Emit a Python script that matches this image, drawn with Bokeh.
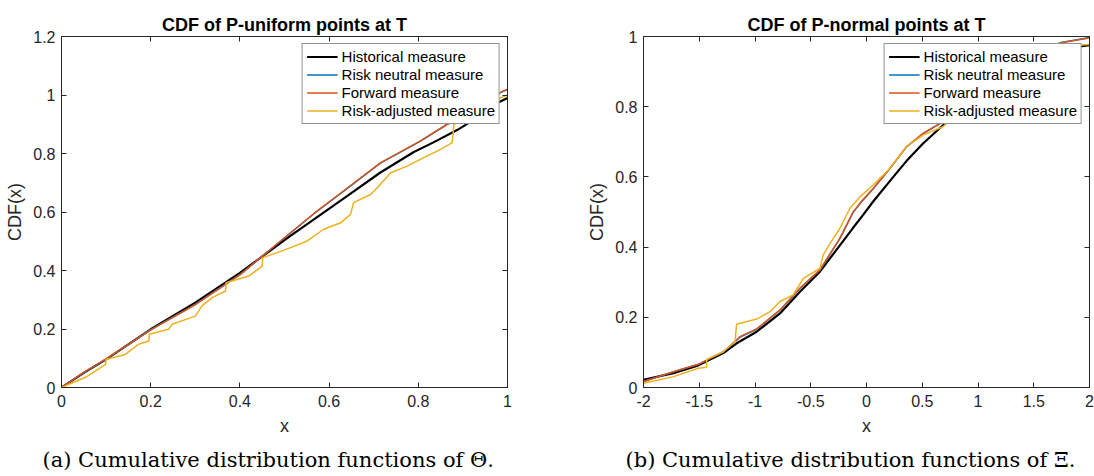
from bokeh.plotting import figure
from bokeh.models import Range1d, LinearAxis, FixedTicker, Legend, LegendItem
from bokeh.layouts import row, column
from bokeh.embed import file_html
from bokeh.resources import INLINE

# ---------------- data: panel (a) P-uniform ----------------
a_title = "CDF of P-uniform points at T"
a_caption = "(a) Cumulative distribution functions of \u0398."
a_xticks = [0, 0.2, 0.4, 0.6, 0.8, 1]
a_xlabels = ["0", "0.2", "0.4", "0.6", "0.8", "1"]
a_yticks = [0, 0.2, 0.4, 0.6, 0.8, 1, 1.2]
a_ylabels = ["0", "0.2", "0.4", "0.6", "0.8", "1", "1.2"]

a_hist_x = [0, 0.05, 0.1, 0.2, 0.3, 0.4, 0.51, 0.566, 0.641, 0.715, 0.79, 0.834, 0.887, 0.917, 0.95, 0.984, 1.0]
a_hist_y = [0, 0.05, 0.096, 0.199, 0.29, 0.392, 0.515, 0.575, 0.655, 0.735, 0.805, 0.838, 0.88, 0.908, 0.942, 0.978, 0.99]

a_rn_x = [0, 0.05, 0.1, 0.2, 0.3, 0.4, 0.491, 0.566, 0.641, 0.715, 0.805, 0.865, 0.887, 0.947, 0.984, 1.0]
a_rn_y = [0, 0.051, 0.097, 0.198, 0.284, 0.386, 0.5, 0.594, 0.681, 0.767, 0.842, 0.9, 0.914, 0.963, 1.008, 1.019]

a_fw_x = [0, 0.05, 0.1, 0.2, 0.3, 0.4, 0.491, 0.566, 0.641, 0.715, 0.805, 0.865, 0.887, 0.947, 0.984, 1.0]
a_fw_y = [0, 0.052, 0.098, 0.197, 0.283, 0.385, 0.501, 0.595, 0.682, 0.768, 0.843, 0.9, 0.915, 0.964, 1.009, 1.02]

a_ra_x = [0, 0.054, 0.099, 0.100, 0.143, 0.173, 0.196, 0.197, 0.24, 0.248, 0.30, 0.315, 0.338, 0.368, 0.369,
          0.42, 0.45, 0.451, 0.495, 0.551, 0.588, 0.626, 0.648, 0.655, 0.693, 0.708, 0.738, 0.775, 0.812,
          0.850, 0.876, 0.880, 0.910, 0.95, 0.984, 1.0]
a_ra_y = [0, 0.035, 0.079, 0.096, 0.113, 0.148, 0.159, 0.182, 0.199, 0.216, 0.244, 0.279, 0.307, 0.33, 0.358,
          0.381, 0.415, 0.444, 0.467, 0.501, 0.541, 0.563, 0.592, 0.632, 0.660, 0.683, 0.734, 0.757, 0.786,
          0.814, 0.837, 0.900, 0.928, 0.955, 0.99, 1.0]

# ---------------- data: panel (b) P-normal ----------------
b_title = "CDF of P-normal points at T"
b_caption = "(b) Cumulative distribution functions of \u039e."
b_xticks = [-2, -1.5, -1, -0.5, 0, 0.5, 1, 1.5, 2]
b_xlabels = ["-2", "-1.5", "-1", "-0.5", "0", "0.5", "1", "1.5", "2"]
b_yticks = [0, 0.2, 0.4, 0.6, 0.8, 1]
b_ylabels = ["0", "0.2", "0.4", "0.6", "0.8", "1"]

b_hist_x = [-2.0, -1.731, -1.508, -1.284, -1.164, -0.985, -0.776, -0.597, -0.418, -0.239, -0.12, -0.03, 0.06,
            0.209, 0.358, 0.507, 0.686, 1.0, 1.25, 1.5, 1.746, 2.0]
b_hist_y = [0.022, 0.041, 0.063, 0.098, 0.126, 0.159, 0.211, 0.273, 0.33, 0.405, 0.455, 0.492, 0.53,
            0.588, 0.645, 0.695, 0.747, 0.84, 0.895, 0.935, 0.965, 0.975]

b_rn_x = [-2.0, -1.73, -1.508, -1.284, -1.164, -1.134, -0.985, -0.776, -0.597, -0.418, -0.239, -0.12, -0.048,
          0.06, 0.209, 0.358, 0.507, 0.656, 1.0, 1.25, 1.5, 1.746, 2.0]
b_rn_y = [0.017, 0.045, 0.066, 0.101, 0.135, 0.144, 0.166, 0.22, 0.282, 0.334, 0.424, 0.499, 0.528,
          0.566, 0.623, 0.685, 0.723, 0.751, 0.85, 0.91, 0.95, 0.983, 0.997]

b_fw_x = [-2.0, -1.73, -1.508, -1.284, -1.164, -1.134, -0.985, -0.776, -0.597, -0.418, -0.239, -0.12, -0.048,
          0.06, 0.209, 0.358, 0.507, 0.656, 1.0, 1.25, 1.5, 1.746, 2.0]
b_fw_y = [0.017, 0.045, 0.066, 0.102, 0.136, 0.145, 0.167, 0.221, 0.283, 0.335, 0.425, 0.50, 0.529,
          0.567, 0.624, 0.686, 0.724, 0.752, 0.85, 0.91, 0.95, 0.982, 0.996]

b_ra_x = [-2.0, -1.73, -1.508, -1.434, -1.433, -1.284, -1.179, -1.165, -0.985, -0.865, -0.776, -0.657, -0.567,
          -0.418, -0.389, -0.328, -0.239, -0.15, -0.06, 0.06, 0.209, 0.358, 0.507, 0.686, 1.0, 1.25, 1.5,
          1.746, 2.0]
b_ra_y = [0.012, 0.031, 0.055, 0.058, 0.08, 0.102, 0.131, 0.18, 0.195, 0.216, 0.245, 0.264, 0.311,
          0.339, 0.377, 0.41, 0.453, 0.51, 0.543, 0.577, 0.624, 0.686, 0.719, 0.743, 0.84, 0.9, 0.945,
          0.972, 0.977]

legend_labels = ["Historical measure", "Risk neutral measure", "Forward measure", "Risk-adjusted measure"]

AX = "#262626"
COLORS = ["#000000", "#0072BD", "#D95319", "#EDB120"]
WIDTHS = [2.2, 1.5, 1.5, 1.5]
SANS = "Liberation Sans"
PLOT_H = 442
CAP_H = 476 - PLOT_H


def make_panel(title, xr, yr, xticks, xlabels, yticks, ylabels, series, width, bl, br):
    p = figure(width=width, height=PLOT_H, x_range=Range1d(*xr), y_range=Range1d(*yr),
               output_backend="svg", toolbar_location=None,
               min_border_left=bl, min_border_right=br, min_border_top=36, min_border_bottom=55)
    p.grid.visible = False
    p.background_fill_color = "white"
    p.border_fill_color = "white"
    p.outline_line_color = AX
    p.outline_line_width = 1

    p.title.text = title
    p.title.align = "center"
    p.title.text_font = SANS
    p.title.text_font_size = "18px"
    p.title.text_font_style = "bold"
    p.title.text_color = "#000000"
    p.title.standoff = 3

    for ax, ticks, labels in ((p.xaxis[0], xticks, xlabels), (p.yaxis[0], yticks, ylabels)):
        ax.ticker = FixedTicker(ticks=ticks)
        ax.major_label_overrides = dict(zip(ticks, labels))
        ax.major_tick_in = 5
        ax.major_tick_out = 0
        ax.minor_tick_line_color = None
        ax.axis_line_color = AX
        ax.major_tick_line_color = AX
        ax.major_label_text_font = SANS
        ax.major_label_text_font_size = "16px"
        ax.major_label_text_color = AX
        ax.axis_label_text_font = SANS
        ax.axis_label_text_font_size = "18px"
        ax.axis_label_text_font_style = "normal"
        ax.axis_label_text_color = AX
    p.xaxis.axis_label = "x"
    p.yaxis.axis_label = "CDF(x)"
    p.xaxis.major_label_standoff = 7
    p.yaxis.major_label_standoff = 6
    p.xaxis.axis_label_standoff = 6
    p.yaxis.axis_label_standoff = 5

    for loc, ticks in (("above", xticks), ("right", yticks)):
        ax = LinearAxis(ticker=FixedTicker(ticks=ticks),
                        major_label_overrides={t: "" for t in ticks},
                        major_tick_in=5, major_tick_out=0, major_label_standoff=0,
                        minor_tick_line_color=None, axis_line_color=AX, major_tick_line_color=AX)
        p.add_layout(ax, loc)

    items = []
    for (xs, ys), lab, col, lw in zip(series, legend_labels, COLORS, WIDTHS):
        r = p.line(xs, ys, line_color=col, line_width=lw)
        items.append(LegendItem(label=lab, renderers=[r]))

    leg = Legend(items=items, location="top_right", margin=7, padding=4, spacing=1,
                 label_height=17, glyph_height=17, glyph_width=31, label_standoff=4, label_width=152,
                 label_text_font=SANS, label_text_font_size="15px", label_text_color="#000000",
                 border_line_color=AX, border_line_width=1, background_fill_color="white",
                 background_fill_alpha=1.0)
    p.add_layout(leg)
    return p


def make_caption(text, offset):
    c = figure(width=547, height=CAP_H, x_range=Range1d(0, 1), y_range=Range1d(0, 1),
               x_axis_type=None, y_axis_type=None, output_backend="svg", toolbar_location=None,
               min_border_left=0, min_border_right=0, min_border_bottom=0, min_border_top=29)
    c.grid.visible = False
    c.outline_line_color = None
    c.border_fill_color = "white"
    c.background_fill_color = "white"
    c.title.text = text
    c.title.align = "left"
    c.title.offset = offset
    c.title.standoff = 0
    c.title.text_font = "DejaVu Serif"
    c.title.text_font_size = "21px"
    c.title.text_font_style = "normal"
    c.title.text_color = "#000000"
    return c


pa = make_panel(a_title, (0, 1), (0, 1.2), a_xticks, a_xlabels, a_yticks, a_ylabels,
                [(a_hist_x, a_hist_y), (a_rn_x, a_rn_y), (a_fw_x, a_fw_y), (a_ra_x, a_ra_y)],
                547, 61, 40)
pb = make_panel(b_title, (-2, 2), (0, 1), b_xticks, b_xlabels, b_yticks, b_ylabels,
                [(b_hist_x, b_hist_y), (b_rn_x, b_rn_y), (b_fw_x, b_fw_y), (b_ra_x, b_ra_y)],
                547, 96, 5)
ca = make_caption(a_caption, 42)
cb = make_caption(b_caption, 78)

layout = column(row(pa, pb), row(ca, cb))
open("out.html", "w").write(file_html(layout, INLINE))
